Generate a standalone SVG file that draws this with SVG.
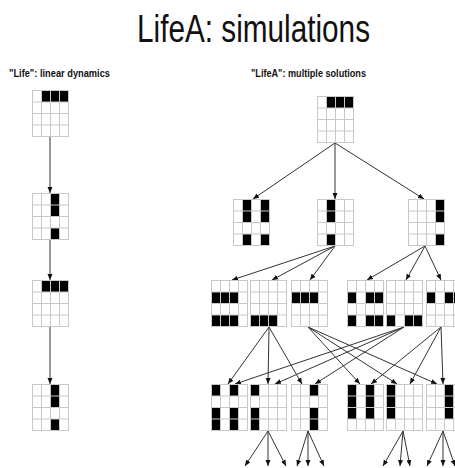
<svg xmlns="http://www.w3.org/2000/svg" xmlns:xlink="http://www.w3.org/1999/xlink" width="455" height="468" viewBox="0 0 455 468">
<style>
.grid{fill:none;stroke:#c8c8c8;stroke-width:1}
.on{fill:#000}
.conn line{stroke:#333;stroke-width:1;marker-end:url(#ah)}
.title{font-family:"Liberation Sans",Arial,sans-serif;font-size:38px;fill:#111}
.sub{font-family:"Liberation Sans",Arial,sans-serif;font-size:11px;font-weight:bold;fill:#111}
</style>
<defs>
<marker id="ah" markerUnits="userSpaceOnUse" markerWidth="6" markerHeight="6" refX="6" refY="3" orient="auto">
<path d="M0 0.5L6 3L0 5.5Z" fill="#111"/>
</marker>
<g id="grid" class="grid">
<rect x="0.5" y="0.5" width="36" height="46"/>
<path d="M9.5 0.5V46.5M18.5 0.5V46.5M27.5 0.5V46.5M0.5 12H36.5M0.5 23.5H36.5M0.5 35H36.5"/>
</g>
</defs>
<rect width="455" height="468" fill="#fff"/>
<text class="title" x="137" y="42" textLength="233" lengthAdjust="spacingAndGlyphs">LifeA: simulations</text>
<text class="sub" x="9" y="77" textLength="101" lengthAdjust="spacingAndGlyphs">"Life": linear dynamics</text>
<text class="sub" x="251" y="77" textLength="115" lengthAdjust="spacingAndGlyphs">"LifeA": multiple solutions</text>

<g id="connectors" class="conn">
<line x1="50" y1="137" x2="50" y2="193"/>
<line x1="50" y1="240" x2="50" y2="280"/>
<line x1="50" y1="327" x2="50" y2="384"/>
<line x1="335" y1="143" x2="253" y2="199"/>
<line x1="335" y1="143" x2="335" y2="199"/>
<line x1="335" y1="143" x2="424" y2="199"/>
<line x1="335" y1="246" x2="232" y2="280"/>
<line x1="335" y1="246" x2="272" y2="280"/>
<line x1="335" y1="246" x2="310" y2="280"/>
<line x1="425" y1="246" x2="367" y2="280"/>
<line x1="425" y1="246" x2="406" y2="280"/>
<line x1="425" y1="246" x2="441" y2="280"/>
<line x1="269" y1="327" x2="228" y2="384"/>
<line x1="269" y1="327" x2="268" y2="384"/>
<line x1="269" y1="327" x2="302" y2="384"/>
<line x1="308" y1="327" x2="360" y2="384"/>
<line x1="308" y1="327" x2="397" y2="384"/>
<line x1="308" y1="327" x2="437" y2="384"/>
<line x1="404" y1="327" x2="235" y2="384"/>
<line x1="404" y1="327" x2="275" y2="384"/>
<line x1="404" y1="327" x2="315" y2="384"/>
<line x1="441" y1="327" x2="371" y2="384"/>
<line x1="441" y1="327" x2="410" y2="384"/>
<line x1="441" y1="327" x2="443" y2="384"/>
<line x1="268" y1="431" x2="245" y2="466"/>
<line x1="268" y1="431" x2="268" y2="466"/>
<line x1="268" y1="431" x2="286" y2="466"/>
<line x1="308" y1="431" x2="297" y2="466"/>
<line x1="308" y1="431" x2="308" y2="466"/>
<line x1="308" y1="431" x2="324" y2="466"/>
<line x1="403" y1="431" x2="383" y2="466"/>
<line x1="403" y1="431" x2="400" y2="466"/>
<line x1="403" y1="431" x2="410" y2="466"/>
<line x1="443" y1="431" x2="427" y2="466"/>
<line x1="443" y1="431" x2="443" y2="466"/>
<line x1="443" y1="431" x2="455" y2="466"/>
</g>

<g id="L1" transform="translate(32,90)">
<rect class="on" x="9.5" y="0.5" width="27" height="11.5"/>
<use xlink:href="#grid"/>
</g>
<g id="L2" transform="translate(32,193)">
<rect class="on" x="18.5" y="0.5" width="9" height="23"/>
<rect class="on" x="18.5" y="35" width="9" height="11.5"/>
<use xlink:href="#grid"/>
</g>
<g id="L3" transform="translate(32,280)">
<rect class="on" x="9.5" y="0.5" width="27" height="11.5"/>
<use xlink:href="#grid"/>
</g>
<g id="L4" transform="translate(32,384)">
<rect class="on" x="18.5" y="0.5" width="9" height="23"/>
<rect class="on" x="18.5" y="35" width="9" height="11.5"/>
<use xlink:href="#grid"/>
</g>

<g id="R1" transform="translate(317,96)">
<rect class="on" x="9.5" y="0.5" width="27" height="11.5"/>
<use xlink:href="#grid"/>
</g>
<g id="R2a" transform="translate(233,199)">
<rect class="on" x="9.5" y="0.5" width="9" height="23"/>
<rect class="on" x="9.5" y="35" width="9" height="11.5"/>
<rect class="on" x="27.5" y="0.5" width="9" height="23"/>
<rect class="on" x="27.5" y="35" width="9" height="11.5"/>
<use xlink:href="#grid"/>
</g>
<g id="R2b" transform="translate(317,199)">
<rect class="on" x="9.5" y="0.5" width="9" height="23"/>
<rect class="on" x="9.5" y="35" width="9" height="11.5"/>
<use xlink:href="#grid"/>
</g>
<g id="R2c" transform="translate(408,199)">
<rect class="on" x="27.5" y="0.5" width="9" height="23"/>
<rect class="on" x="27.5" y="35" width="9" height="11.5"/>
<use xlink:href="#grid"/>
</g>

<g id="R3a" transform="translate(211,280)">
<rect class="on" x="0.5" y="12" width="27" height="11.5"/>
<rect class="on" x="0.5" y="35" width="27" height="11.5"/>
<use xlink:href="#grid"/>
</g>
<g id="R3b" transform="translate(250,280)">
<rect class="on" x="0.5" y="35" width="27" height="11.5"/>
<use xlink:href="#grid"/>
</g>
<g id="R3c" transform="translate(291,280)">
<rect class="on" x="0.5" y="12" width="27" height="11.5"/>
<use xlink:href="#grid"/>
</g>
<g id="R3d" transform="translate(347,280)">
<rect class="on" x="0.5" y="12" width="9" height="11.5"/>
<rect class="on" x="18.5" y="12" width="18" height="11.5"/>
<rect class="on" x="0.5" y="35" width="9" height="11.5"/>
<rect class="on" x="18.5" y="35" width="18" height="11.5"/>
<use xlink:href="#grid"/>
</g>
<g id="R3e" transform="translate(386,280)">
<rect class="on" x="0.5" y="35" width="9" height="11.5"/>
<rect class="on" x="18.5" y="35" width="18" height="11.5"/>
<use xlink:href="#grid"/>
</g>
<g id="R3f" transform="translate(426,280)">
<rect class="on" x="0.5" y="12" width="9" height="11.5"/>
<rect class="on" x="18.5" y="12" width="18" height="11.5"/>
<use xlink:href="#grid"/>
</g>

<g id="R4a" transform="translate(211,384)">
<rect class="on" x="0.5" y="0.5" width="9" height="11.5"/>
<rect class="on" x="0.5" y="23.5" width="9" height="23"/>
<rect class="on" x="18.5" y="0.5" width="9" height="11.5"/>
<rect class="on" x="18.5" y="23.5" width="9" height="23"/>
<use xlink:href="#grid"/>
</g>
<g id="R4b" transform="translate(250,384)">
<rect class="on" x="0.5" y="0.5" width="9" height="11.5"/>
<rect class="on" x="0.5" y="23.5" width="9" height="23"/>
<use xlink:href="#grid"/>
</g>
<g id="R4c" transform="translate(291,384)">
<rect class="on" x="18.5" y="0.5" width="9" height="11.5"/>
<rect class="on" x="18.5" y="23.5" width="9" height="23"/>
<use xlink:href="#grid"/>
</g>
<g id="R4d" transform="translate(347,384)">
<rect class="on" x="0.5" y="0.5" width="9" height="34.5"/>
<rect class="on" x="18.5" y="0.5" width="9" height="34.5"/>
<use xlink:href="#grid"/>
</g>
<g id="R4e" transform="translate(386,384)">
<rect class="on" x="0.5" y="0.5" width="9" height="34.5"/>
<use xlink:href="#grid"/>
</g>
<g id="R4f" transform="translate(426,384)">
<rect class="on" x="18.5" y="0.5" width="9" height="34.5"/>
<use xlink:href="#grid"/>
</g>
</svg>
